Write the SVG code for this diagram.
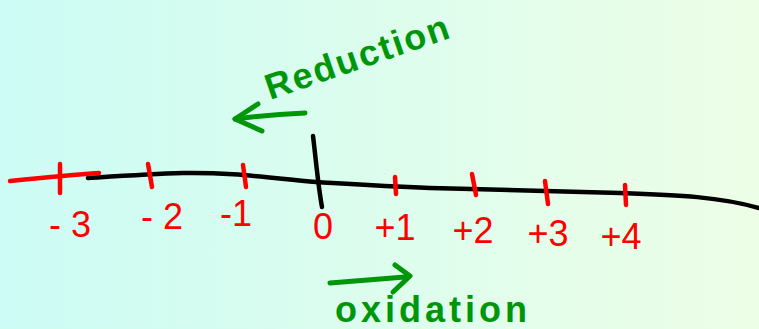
<svg xmlns="http://www.w3.org/2000/svg" width="759" height="329" viewBox="0 0 759 329">
<defs>
<linearGradient id="bg" x1="0" y1="0" x2="1" y2="0">
<stop offset="0" stop-color="#ccfcf5"/>
<stop offset="1" stop-color="#edfee6"/>
</linearGradient>
</defs>
<style>
.blk{fill:none;stroke:#000;stroke-width:4.5;stroke-linecap:round;stroke-linejoin:round}
.red{fill:none;stroke:#ff0000;stroke-width:4.5;stroke-linecap:round;stroke-linejoin:round}
.grn{fill:none;stroke:#00960a;stroke-width:5;stroke-linecap:round;stroke-linejoin:round}
.lbl{font-family:"Liberation Sans",Arial,sans-serif;font-size:36px;fill:#ff0000;text-anchor:middle}
.gt{font-family:"Liberation Sans",Arial,sans-serif;font-size:36px;fill:#00960a;font-weight:bold;letter-spacing:2px}
</style>
<rect width="759" height="329" fill="url(#bg)"/>
<g id="axis">
<path class="blk" d="M88,178 C120,176 150,174 183,173 C230,172 270,178 316,182 C350,184 380,186 430,188 C480,189 520,190 620,193 C680,195 720,197 759,208"/>
<path class="blk" d="M313,136 C316,160 318,185 322,207"/>
<path class="red" d="M10,181 C40,178 70,175 99,173"/>
</g>
<g id="ticks">
<path class="red" d="M60,164 L60,193"/>
<path class="red" d="M148,164 L152,187"/>
<path class="red" d="M243,165 L246,187"/>
<path class="red" d="M395,177 L396,194"/>
<path class="red" d="M472,174 L476,195"/>
<path class="red" d="M545,181 L548,204"/>
<path class="red" d="M625,185 L626,205"/>
</g>
<g id="labels">
<text class="lbl" x="70" y="237">- 3</text>
<text class="lbl" x="162" y="229">- 2</text>
<text class="lbl" x="236" y="226">-1</text>
<text class="lbl" x="323" y="239">0</text>
<text class="lbl" x="395" y="240">+1</text>
<text class="lbl" x="473" y="243">+2</text>
<text class="lbl" x="548" y="246">+3</text>
<text class="lbl" x="621" y="249">+4</text>
</g>
<g id="reduction">
<path class="grn" d="M305,113 C280,114 258,116 235,119"/>
<path class="grn" d="M258,104 L235,119 L262,131"/>
<text class="gt" transform="translate(270,100) rotate(-19)">Reduction</text>
</g>
<g id="oxidation">
<path class="grn" d="M330,283 C355,281 380,279 405,277"/>
<path class="grn" d="M395,265 L410,276 L393,292"/>
<text class="gt" x="335" y="322" style="letter-spacing:4px">oxidation</text>
</g>
</svg>
